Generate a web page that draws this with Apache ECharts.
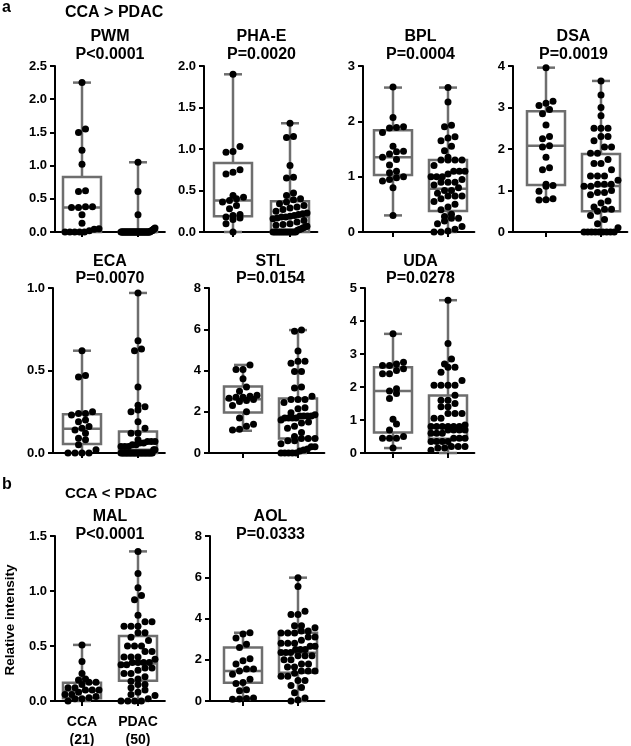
<!DOCTYPE html>
<html>
<head>
<meta charset="utf-8">
<script src="https://cdn.jsdelivr.net/npm/echarts@6/dist/echarts.min.js"></script>
<style>
  html, body { margin: 0; padding: 0; background: #fff; }
  #chart_con { width: 631px; height: 746px; }
</style>
</head>
<body>
<div id="chart_con"></div>
<script>
// lectins, p values and axis settings
const panelNames = ['PWM', 'PHA-E', 'BPL', 'DSA', 'ECA', 'STL', 'UDA', 'MAL', 'AOL'];
const pValues = ['P<0.0001', 'P=0.0020', 'P=0.0004', 'P=0.0019', 'P=0.0070', 'P=0.0154', 'P=0.0278', 'P<0.0001', 'P=0.0333'];
const yMaxList = [2.5, 2, 3, 4, 1, 8, 5, 1.5, 8];
const yStepList = [0.5, 0.5, 1, 1, 0.5, 2, 1, 0.5, 2];
const groupNames = ['CCA', 'PDAC'];
const groupCounts = ['(21)', '(50)'];

// relative intensity per sample
const pwmCCA = [0, 0, 0, 0, 0, 0.02, 0.04, 0.05, 0.13, 0.26, 0.37, 0.37, 0.38, 0.38, 0.61, 0.62, 1.02, 1.23, 1.50, 1.55, 2.25];
const pwmPDAC = [1.05, 0.61, 0.26, 0.06, 0.05, 0.04, 0.03, 0.02, 0.02, 0.01,
  0, 0, 0, 0, 0, 0, 0, 0, 0, 0, 0, 0, 0, 0, 0, 0, 0, 0, 0, 0,
  0, 0, 0, 0, 0, 0, 0, 0, 0, 0, 0, 0, 0, 0, 0, 0, 0, 0, 0, 0];
const phaCCA = [0, 0.10, 0.15, 0.17, 0.18, 0.20, 0.21, 0.28, 0.32, 0.36, 0.38, 0.40, 0.42, 0.44, 0.70, 0.72, 0.75, 0.96, 0.97, 1.03, 1.90];
const phaPDAC = [1.31, 1.15, 1.14, 0.80, 0.66, 0.65, 0.47, 0.44, 0.40, 0.39, 0.36, 0.34, 0.32, 0.30, 0.29, 0.27, 0.25, 0.23, 0.22, 0.21,
  0.20, 0.19, 0.18, 0.18, 0.17, 0.16, 0.14, 0.12, 0.10, 0.09, 0.08, 0.07, 0.06, 0.05, 0.04, 0.03, 0.02,
  0, 0, 0, 0, 0, 0, 0, 0, 0, 0, 0, 0, 0];
const bplCCA = [2.62, 2.07, 1.90, 1.89, 1.88, 1.80, 1.55, 1.46, 1.45, 1.41, 1.35, 1.31, 1.21, 1.10, 1.07, 1.00, 0.98, 0.95, 0.92, 0.80, 0.30];
const bplPDAC = [2.61, 2.35, 1.93, 1.90, 1.72, 1.70, 1.65, 1.55, 1.47, 1.35, 1.30, 1.30, 1.30, 1.30, 1.20, 1.10, 1.10, 1.10, 1.05, 1.00,
  1.00, 1.00, 0.95, 0.90, 0.90, 0.90, 0.85, 0.80, 0.75, 0.75, 0.70, 0.65, 0.65, 0.65, 0.60, 0.55, 0.50, 0.45, 0.40, 0.32,
  0.28, 0.25, 0.25, 0.20, 0.15, 0.10, 0.05, 0.02, 0, 0];
const dsaCCA = [3.96, 3.15, 3.10, 3.05, 2.95, 2.85, 2.58, 2.30, 2.25, 2.08, 2.05, 1.80, 1.55, 1.50, 1.15, 1.12, 1.10, 0.98, 0.80, 0.78, 0.77];
const dsaPDAC = [3.64, 3.30, 3.00, 2.80, 2.50, 2.50, 2.50, 2.30, 2.30, 2.20, 2.05, 2.05, 1.90, 1.90, 1.75, 1.65, 1.65, 1.50, 1.35, 1.35,
  1.35, 1.25, 1.15, 1.15, 1.15, 1.10, 1.10, 1.00, 0.95, 0.95, 0.90, 0.75, 0.70, 0.60, 0.55, 0.55, 0.50, 0.40, 0.30, 0.20,
  0.10, 0, 0, 0, 0, 0, 0, 0, 0, 0];
const ecaCCA = [0.62, 0.47, 0.46, 0.25, 0.24, 0.24, 0.23, 0.20, 0.19, 0.16, 0.15, 0.14, 0.12, 0.09, 0.08, 0.05, 0.02, 0, 0, 0, 0];
const ecaPDAC = [0.97, 0.68, 0.63, 0.62, 0.40, 0.29, 0.28, 0.26, 0.25, 0.19, 0.15, 0.12, 0.12, 0.08, 0.07, 0.07, 0.07, 0.06, 0.06, 0.05,
  0.05, 0.04, 0.04, 0.04, 0.02, 0.02, 0, 0, 0, 0, 0, 0, 0, 0, 0, 0, 0, 0, 0, 0, 0, 0, 0, 0, 0, 0, 0, 0, 0, 0];
const stlCCA = [4.27, 4.05, 4.05, 3.60, 3.20, 3.00, 2.80, 2.75, 2.70, 2.70, 2.65, 2.60, 2.55, 2.50, 2.30, 2.00, 1.70, 1.40, 1.30, 1.15, 1.12];
const stlPDAC = [5.96, 5.90, 4.95, 4.45, 4.45, 4.35, 3.95, 3.95, 3.20, 3.15, 2.75, 2.60, 2.60, 2.60, 2.45, 2.20, 2.15, 1.95, 1.85, 1.80,
  1.80, 1.80, 1.80, 1.70, 1.70, 1.70, 1.70, 1.60, 1.50, 1.45, 1.30, 1.20, 1.00, 0.80, 0.70, 0.70, 0.70, 0.60, 0.60, 0.45,
  0.30, 0.30, 0.20, 0.15, 0.10, 0, 0, 0, 0, 0];
const udaCCA = [3.61, 2.75, 2.70, 2.65, 2.65, 2.55, 2.50, 2.40, 2.40, 1.95, 1.88, 1.80, 1.65, 1.02, 0.88, 0.70, 0.50, 0.45, 0.45, 0.45, 0.15];
const udaPDAC = [4.63, 3.32, 2.85, 2.70, 2.60, 2.60, 2.45, 2.20, 2.05, 2.05, 2.05, 2.05, 1.75, 1.60, 1.60, 1.50, 1.40, 1.40, 1.20, 1.20,
  1.20, 1.05, 1.05, 0.85, 0.80, 0.80, 0.80, 0.80, 0.80, 0.80, 0.70, 0.70, 0.70, 0.70, 0.60, 0.60, 0.60, 0.45, 0.45, 0.45,
  0.35, 0.35, 0.35, 0.35, 0.20, 0.20, 0.20, 0.15, 0.15, 0.08];
const malCCA = [0.51, 0.36, 0.25, 0.20, 0.19, 0.17, 0.17, 0.15, 0.12, 0.12, 0.10, 0.10, 0.10, 0.08, 0.06, 0.06, 0.04, 0.03, 0.02, 0.02, 0];
const malPDAC = [1.36, 1.16, 1.03, 0.96, 0.92, 0.78, 0.72, 0.72, 0.68, 0.68, 0.68, 0.62, 0.62, 0.58, 0.55, 0.50, 0.50, 0.50, 0.45, 0.45,
  0.40, 0.40, 0.40, 0.38, 0.35, 0.35, 0.35, 0.35, 0.33, 0.33, 0.30, 0.30, 0.28, 0.25, 0.25, 0.22, 0.20, 0.18, 0.15, 0.15,
  0.12, 0.10, 0.08, 0.06, 0.05, 0.02, 0, 0, 0, 0];
const aolCCA = [3.31, 3.25, 3.05, 2.75, 2.60, 2.05, 1.95, 1.80, 1.55, 1.55, 1.45, 1.30, 1.05, 0.90, 0.85, 0.55, 0.50, 0.15, 0.12, 0.10, 0.08];
const aolPDAC = [5.98, 5.55, 4.35, 4.20, 4.20, 3.65, 3.65, 3.55, 3.40, 3.40, 3.30, 3.30, 3.30, 3.10, 3.10, 2.95, 2.80, 2.80, 2.80, 2.65,
  2.65, 2.50, 2.50, 2.50, 2.35, 2.35, 2.35, 2.20, 2.20, 2.20, 2.00, 2.00, 1.80, 1.80, 1.65, 1.65, 1.45, 1.45, 1.45, 1.35,
  1.20, 1.20, 1.00, 1.00, 0.75, 0.65, 0.40, 0.15, 0.05, 0];

// box stats [min, Q1, median, Q3, max] for CCA and PDAC
const pwmBox = [[0, 0, 0.37, 0.83, 2.25], [0, 0, 0, 0.01, 1.05]];
const phaBox = [[0, 0.19, 0.38, 0.83, 1.90], [0, 0, 0.18, 0.37, 1.31]];
const bplBox = [[0.30, 1.03, 1.35, 1.84, 2.61], [0, 0.38, 0.78, 1.30, 2.61]];
const dsaBox = [[0.78, 1.13, 2.08, 2.91, 3.96], [0, 0.50, 1.11, 1.88, 3.64]];
const ecaBox = [[0, 0.054, 0.147, 0.235, 0.62], [0, 0, 0.02, 0.13, 0.97]];
const stlBox = [[1.08, 1.96, 2.61, 3.22, 4.27], [0, 0.70, 1.75, 2.64, 5.96]];
const udaBox = [[0.15, 0.62, 1.88, 2.60, 3.61], [0, 0.43, 0.78, 1.74, 4.63]];
const malBox = [[0, 0.024, 0.094, 0.166, 0.51], [0, 0.185, 0.34, 0.59, 1.36]];
const aolBox = [[0.08, 0.89, 1.45, 2.60, 3.31], [0, 1.37, 2.34, 3.31, 5.98]];

const ccaData = [pwmCCA, phaCCA, bplCCA, dsaCCA, ecaCCA, stlCCA, udaCCA, malCCA, aolCCA];
const pdacData = [pwmPDAC, phaPDAC, bplPDAC, dsaPDAC, ecaPDAC, stlPDAC, udaPDAC, malPDAC, aolPDAC];
const boxData = [pwmBox, phaBox, bplBox, dsaBox, ecaBox, stlBox, udaBox, malBox, aolBox];

// panel layout in px: [axis x, CCA center, PDAC center, top, bottom, name y, p y]
const layout = [
  [55, 82, 138, 66, 232, 37, 55],
  [204, 233, 290, 66, 232, 37, 55],
  [363, 393, 448, 66, 232, 37, 55],
  [513, 546, 601, 66, 232, 37, 55],
  [53, 82, 138, 288, 453, 262, 279],
  [209, 243, 298, 288, 453, 262, 279],
  [365, 393, 448, 288, 453, 262, 279],
  [55, 82, 138, 536, 701, 517, 535],
  [210, 243, 298, 536, 701, 517, 535]
];

const FONT = '"Liberation Sans", Arial, sans-serif';
const BOX_COLOR = '#6e6e6e';
const DOT = 7;
const MAXW = 34;

// rows of dots like a scatter dot plot, spread around the group centre
function swarm(vals, g, pxPerUnit, unit) {
  const sorted = vals.slice().sort(function (a, b) { return a - b; });
  const out = [];
  let i = 0;
  while (i < sorted.length) {
    let j = i;
    while (j < sorted.length && (sorted[j] - sorted[i]) * pxPerUnit < DOT * 0.9) j++;
    const k = j - i;
    let s = DOT;
    if ((k - 1) * s > MAXW) s = MAXW / (k - 1);
    for (let m = 0; m < k; m++) {
      out.push([g + (m - (k - 1) / 2) * s / unit, sorted[i + m]]);
    }
    i = j;
  }
  return out;
}

const grids = [], xAxes = [], yAxes = [], series = [], texts = [];

panelNames.forEach(function (name, p) {
  const L = layout[p];
  const unit = L[2] - L[1];
  const xMin = -(L[1] - L[0]) / unit;
  const height = L[4] - L[3];
  const pxPerUnit = height / yMaxList[p];
  const dec = yStepList[p] < 1 ? 1 : 0;

  grids.push({ left: L[0], top: L[3], width: L[2] + 0.48 * unit - L[0], height: height });
  xAxes.push({
    type: 'value', gridIndex: p, min: xMin, max: 1.48,
    axisLine: { show: true, onZero: false, lineStyle: { color: '#000', width: 2 } },
    axisTick: { show: false }, axisLabel: { show: false }, splitLine: { show: false }
  });
  yAxes.push({
    type: 'value', gridIndex: p, min: 0, max: yMaxList[p], interval: yStepList[p],
    axisLine: { show: true, onZero: false, lineStyle: { color: '#000', width: 2 } },
    axisTick: { show: true, length: 5, lineStyle: { color: '#000', width: 2 } },
    axisLabel: {
      color: '#000', fontFamily: FONT, fontWeight: 'bold', fontSize: 13, margin: 8,
      formatter: function (v) { return v.toFixed(dec); }
    },
    splitLine: { show: false }
  });

  series.push({
    type: 'custom', xAxisIndex: p, yAxisIndex: p, clip: false, silent: true,
    data: boxData[p].map(function (b, g) { return [g].concat(b); }),
    renderItem: function (params, api) {
      const g = api.value(0);
      const cx = api.coord([g, 0])[0];
      const base = api.coord([g, 0])[1];
      const y = function (k) { return api.coord([g, api.value(k)])[1]; };
      const yMin = y(1), yQ1 = y(2), yMed = y(3), yQ3 = y(4), yTop = y(5);
      const st = { stroke: BOX_COLOR, lineWidth: 2.5, fill: 'none' };
      return {
        type: 'group',
        children: [
          { type: 'line', shape: { x1: cx, y1: yTop, x2: cx, y2: yQ3 }, style: st },
          { type: 'line', shape: { x1: cx, y1: yQ1, x2: cx, y2: yMin }, style: st },
          { type: 'line', shape: { x1: cx - 9, y1: yTop, x2: cx + 9, y2: yTop }, style: st },
          { type: 'line', shape: { x1: cx - 9, y1: yMin, x2: cx + 9, y2: yMin }, style: st },
          { type: 'rect', shape: { x: cx - 19, y: yQ3, width: 38, height: yQ1 - yQ3 }, style: st },
          { type: 'line', shape: { x1: cx - 19, y1: yMed, x2: cx + 19, y2: yMed }, style: st },
          { type: 'line', shape: { x1: cx, y1: base, x2: cx, y2: base + 5 }, style: { stroke: '#000', lineWidth: 2 } }
        ]
      };
    }
  });

  series.push({
    type: 'scatter', xAxisIndex: p, yAxisIndex: p, silent: true,
    symbol: 'circle', symbolSize: DOT,
    itemStyle: { color: '#000', opacity: 1 },
    data: swarm(ccaData[p], 0, pxPerUnit, unit).concat(swarm(pdacData[p], 1, pxPerUnit, unit))
  });

  const mid = (L[1] + L[2]) / 2;
  texts.push({ type: 'text', x: mid, y: L[5], style: { text: name, font: 'bold 16px ' + FONT, fill: '#000', align: 'center', verticalAlign: 'middle' } });
  texts.push({ type: 'text', x: mid, y: L[6], style: { text: pValues[p], font: 'bold 16px ' + FONT, fill: '#000', align: 'center', verticalAlign: 'middle' } });
});

// panel letters, headings, group labels
texts.push({ type: 'text', x: 2, y: 8, style: { text: 'a', font: 'bold 16px ' + FONT, fill: '#000', verticalAlign: 'middle' } });
texts.push({ type: 'text', x: 65, y: 13, style: { text: 'CCA > PDAC', font: 'bold 16px ' + FONT, fill: '#000', verticalAlign: 'middle' } });
texts.push({ type: 'text', x: 2, y: 485, style: { text: 'b', font: 'bold 16px ' + FONT, fill: '#000', verticalAlign: 'middle' } });
texts.push({ type: 'text', x: 65, y: 494, style: { text: 'CCA < PDAC', font: 'bold 15px ' + FONT, fill: '#000', verticalAlign: 'middle' } });
texts.push({ type: 'text', x: 10, y: 620, rotation: Math.PI / 2, style: { text: 'Relative intensity', font: 'bold 13.5px ' + FONT, fill: '#000', align: 'center', verticalAlign: 'middle' } });
[layout[7][1], layout[7][2]].forEach(function (cx, g) {
  texts.push({ type: 'text', x: cx, y: 722, style: { text: groupNames[g], font: 'bold 14px ' + FONT, fill: '#000', align: 'center', verticalAlign: 'middle' } });
  texts.push({ type: 'text', x: cx, y: 740, style: { text: groupCounts[g], font: 'bold 14px ' + FONT, fill: '#000', align: 'center', verticalAlign: 'middle' } });
});

const option = {
  animation: false,
  backgroundColor: '#fff',
  grid: grids,
  xAxis: xAxes,
  yAxis: yAxes,
  series: series,
  graphic: texts
};

const chart = echarts.init(document.getElementById('chart_con'));
chart.setOption(option);
window.addEventListener('resize', function () {
  chart.resize();
});
</script>
</body>
</html>
